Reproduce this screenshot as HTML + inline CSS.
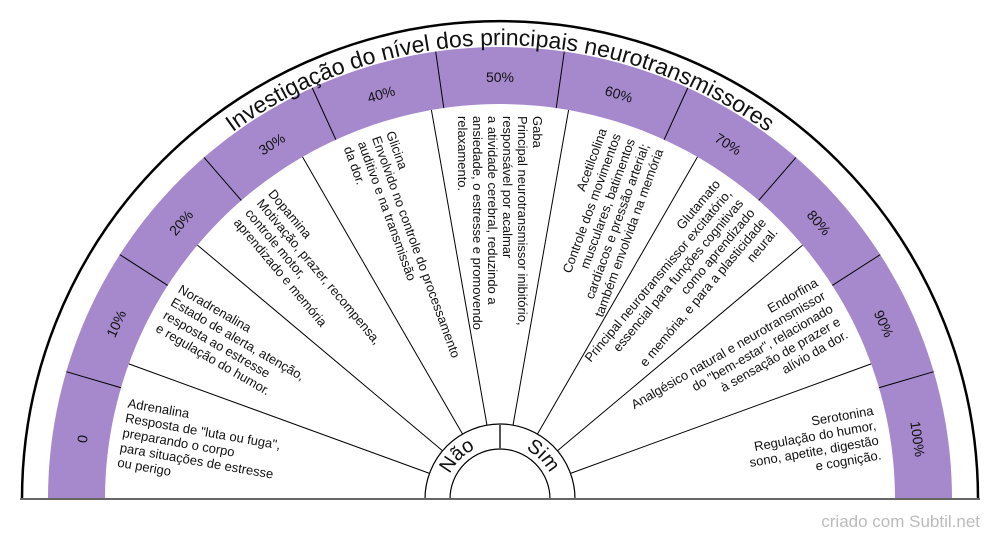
<!DOCTYPE html>
<html><head><meta charset="utf-8"><style>
html,body{margin:0;padding:0;background:#fff;}
svg{display:block;font-family:"Liberation Sans",sans-serif;}
.t{font-size:13px;fill:#111;}
.b{font-size:14px;fill:#111;}
</style></head><body>
<svg width="1000" height="540" viewBox="0 0 1000 540" xmlns="http://www.w3.org/2000/svg">
<defs>
<path id="tp" d="M46,499 A454,454 0 0 1 954,499"/>
<path id="ip" d="M444,499 A56,56 0 0 1 556,499"/>
</defs>
<path d="M22,499 A478,478 0 0 1 978,499" fill="#fff" stroke="#000" stroke-width="2.5"/>
<path d="M48,499 A452,452 0 0 1 952,499 L895,499 A395,395 0 0 0 105,499 Z" fill="#a688cc"/>
<g stroke="#000" stroke-width="1" transform="translate(500,499)">
<line x1="395" x2="452" transform="rotate(-163.64)"/>
<line x1="395" x2="452" transform="rotate(-147.27)"/>
<line x1="395" x2="452" transform="rotate(-130.91)"/>
<line x1="395" x2="452" transform="rotate(-114.55)"/>
<line x1="395" x2="452" transform="rotate(-98.18)"/>
<line x1="395" x2="452" transform="rotate(-81.82)"/>
<line x1="395" x2="452" transform="rotate(-65.45)"/>
<line x1="395" x2="452" transform="rotate(-49.09)"/>
<line x1="395" x2="452" transform="rotate(-32.73)"/>
<line x1="395" x2="452" transform="rotate(-16.36)"/>
<line x1="75" x2="395" transform="rotate(-160)"/>
<line x1="75" x2="395" transform="rotate(-140)"/>
<line x1="75" x2="395" transform="rotate(-120)"/>
<line x1="75" x2="395" transform="rotate(-100)"/>
<line x1="75" x2="395" transform="rotate(-80)"/>
<line x1="75" x2="395" transform="rotate(-60)"/>
<line x1="75" x2="395" transform="rotate(-40)"/>
<line x1="75" x2="395" transform="rotate(-20)"/>
</g>
<path d="M425,499 A75,75 0 0 1 575,499" fill="#fff" stroke="#000" stroke-width="1.2"/>
<path d="M450,499 A50,50 0 0 1 550,499" fill="#fff" stroke="#000" stroke-width="1.2"/>
<line x1="500" y1="424" x2="500" y2="449" stroke="#555" stroke-width="2"/>
<line x1="20" y1="499" x2="980" y2="499" stroke="#666" stroke-width="2"/>

<text font-size="23" fill="#111"><textPath href="#tp" startOffset="50%" text-anchor="middle">Investigação do nível dos principais neurotransmissores</textPath></text>
<text font-size="20" fill="#111"><textPath href="#ip" startOffset="25%" text-anchor="middle">Não</textPath></text>
<text font-size="20" fill="#111"><textPath href="#ip" startOffset="75%" text-anchor="middle">Sim</textPath></text>

<g class="b" text-anchor="middle" dominant-baseline="central">
<text transform="translate(500,499) rotate(-171.82) translate(422,0) rotate(90)">0</text>
<text transform="translate(500,499) rotate(-155.45) translate(422,0) rotate(90)">10%</text>
<text transform="translate(500,499) rotate(-139.09) translate(422,0) rotate(90)">20%</text>
<text transform="translate(500,499) rotate(-122.73) translate(422,0) rotate(90)">30%</text>
<text transform="translate(500,499) rotate(-106.36) translate(422,0) rotate(90)">40%</text>
<text transform="translate(500,499) rotate(-90) translate(422,0) rotate(90)">50%</text>
<text transform="translate(500,499) rotate(-73.64) translate(422,0) rotate(90)">60%</text>
<text transform="translate(500,499) rotate(-57.27) translate(422,0) rotate(90)">70%</text>
<text transform="translate(500,499) rotate(-40.91) translate(422,0) rotate(90)">80%</text>
<text transform="translate(500,499) rotate(-24.55) translate(422,0) rotate(90)">90%</text>
<text transform="translate(500,499) rotate(-8.18) translate(422,0) rotate(90)">100%</text>
</g>

<g class="t">
<text transform="translate(500,499) rotate(10) translate(-383,0)">
<tspan x="0" y="-25.5">Adrenalina</tspan><tspan x="0" y="-10.5">Resposta de "luta ou fuga",</tspan><tspan x="0" y="4.5">preparando o corpo</tspan><tspan x="0" y="19.5">para situações de estresse</tspan><tspan x="0" y="34.5">ou perigo</tspan></text>
<text transform="translate(500,499) rotate(30) translate(-383,0)">
<tspan x="0" y="-18">Noradrenalina</tspan><tspan x="0" y="-3">Estado de alerta, atenção,</tspan><tspan x="0" y="12">resposta ao estresse</tspan><tspan x="0" y="27">e regulação do humor.</tspan></text>
<text transform="translate(500,499) rotate(50) translate(-383,0)">
<tspan x="0" y="-18">Dopamina</tspan><tspan x="0" y="-3">Motivação, prazer, recompensa,</tspan><tspan x="0" y="12">controle motor,</tspan><tspan x="0" y="27">aprendizado e memória</tspan></text>
<text transform="translate(500,499) rotate(70) translate(-383,0)">
<tspan x="0" y="-18">Glicina</tspan><tspan x="0" y="-3">Envolvido no controle do processamento</tspan><tspan x="0" y="12">auditivo e na transmissão</tspan><tspan x="0" y="27">da dor.</tspan></text>
<text transform="translate(500,499) rotate(90) translate(-383,0)">
<tspan x="0" y="-33">Gaba</tspan><tspan x="0" y="-18">Principal neurotransmissor inibitório,</tspan><tspan x="0" y="-3">responsável por acalmar</tspan><tspan x="0" y="12">a atividade cerebral, reduzindo a</tspan><tspan x="0" y="27">ansiedade, o estresse e promovendo</tspan><tspan x="0" y="42">relaxamento.</tspan></text>
</g>
<g class="t" text-anchor="end">
<text transform="translate(500,499) rotate(-70) translate(383,0)">
<tspan x="0" y="-25.5">Acetilcolina</tspan><tspan x="0" y="-10.5">Controle dos movimentos</tspan><tspan x="0" y="4.5">musculares, batimentos</tspan><tspan x="0" y="19.5">cardíacos e pressão arterial;</tspan><tspan x="0" y="34.5">também envolvida na memória</tspan></text>
<text transform="translate(500,499) rotate(-50) translate(383,0)">
<tspan x="0" y="-33">Glutamato</tspan><tspan x="0" y="-18">Principal neurotransmissor excitatório,</tspan><tspan x="0" y="-3">essencial para funções cognitivas</tspan><tspan x="0" y="12">como aprendizado</tspan><tspan x="0" y="27">e memória, e para a plasticidade</tspan><tspan x="0" y="42">neural.</tspan></text>
<text transform="translate(500,499) rotate(-30) translate(383,0)">
<tspan x="0" y="-25.5">Endorfina</tspan><tspan x="0" y="-10.5">Analgésico natural e neurotransmissor</tspan><tspan x="0" y="4.5">do "bem-estar", relacionado</tspan><tspan x="0" y="19.5">à sensação de prazer e</tspan><tspan x="0" y="34.5">alívio da dor.</tspan></text>
<text transform="translate(500,499) rotate(-10) translate(383,0)">
<tspan x="0" y="-18">Serotonina</tspan><tspan x="0" y="-3">Regulação do humor,</tspan><tspan x="0" y="12">sono, apetite, digestão</tspan><tspan x="0" y="27">e cognição.</tspan></text>
</g>
<text x="980" y="527" text-anchor="end" font-size="17" fill="#bbb">criado com Subtil.net</text>
</svg>
</body></html>
